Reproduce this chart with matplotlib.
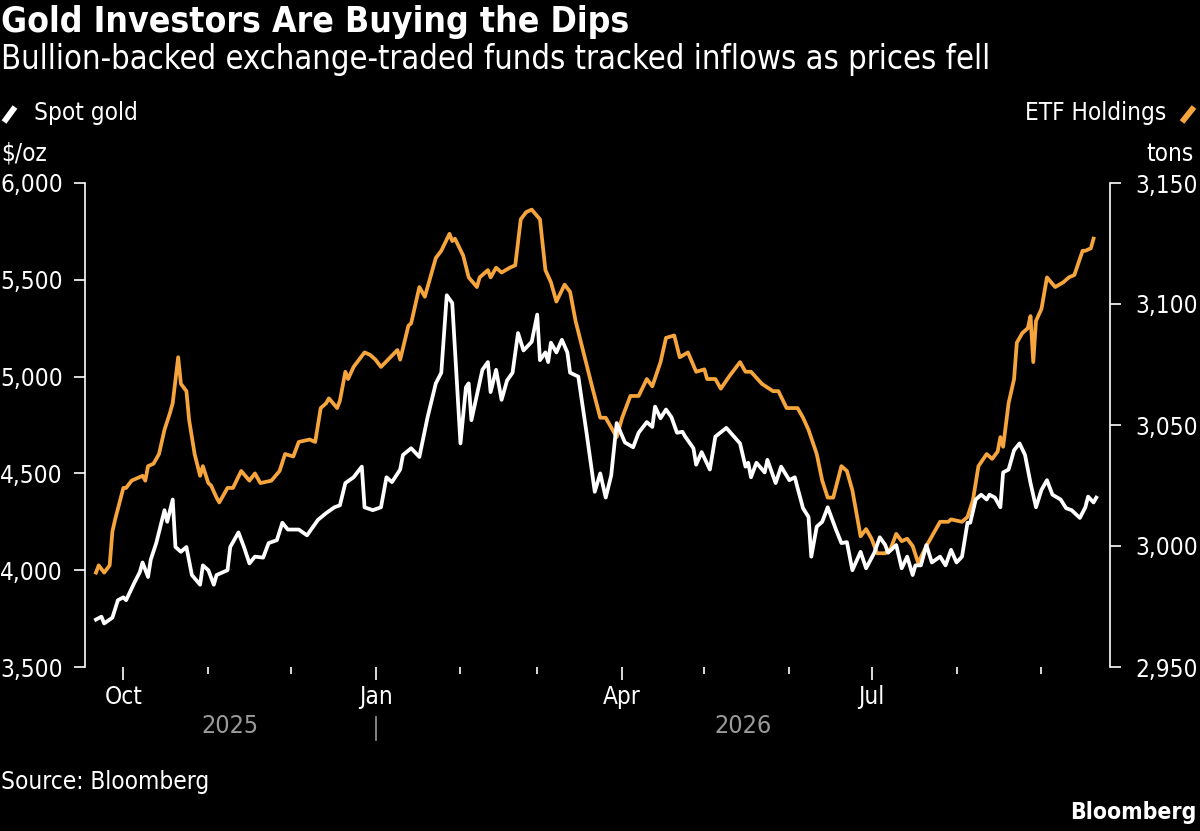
import datetime as dt
import matplotlib
matplotlib.use("Agg")
from matplotlib import pyplot as plt
import matplotlib.dates as mdates
from matplotlib.lines import Line2D
from matplotlib.ticker import FuncFormatter, FixedLocator

# ===================== data =====================
gold_dates = [
    "2025-09-21", "2025-09-23", "2025-09-24", "2025-09-27", "2025-09-29", "2025-10-01", "2025-10-02",
    "2025-10-05", "2025-10-07", "2025-10-08", "2025-10-10", "2025-10-11", "2025-10-13", "2025-10-16",
    "2025-10-17", "2025-10-19", "2025-10-20", "2025-10-22", "2025-10-24", "2025-10-26", "2025-10-29",
    "2025-10-30", "2025-11-01", "2025-11-03", "2025-11-04", "2025-11-08", "2025-11-09", "2025-11-12",
    "2025-11-14", "2025-11-16", "2025-11-18", "2025-11-21", "2025-11-23", "2025-11-26", "2025-11-28",
    "2025-11-30", "2025-12-04", "2025-12-07", "2025-12-11", "2025-12-14", "2025-12-17", "2025-12-19",
    "2025-12-21", "2025-12-24", "2025-12-27", "2025-12-28", "2025-12-31", "2026-01-03", "2026-01-05",
    "2026-01-07", "2026-01-10", "2026-01-11", "2026-01-14", "2026-01-17", "2026-01-20", "2026-01-23",
    "2026-01-25", "2026-01-27", "2026-01-29", "2026-02-01", "2026-02-03", "2026-02-04", "2026-02-05",
    "2026-02-09", "2026-02-11", "2026-02-12", "2026-02-14", "2026-02-16", "2026-02-18", "2026-02-20",
    "2026-02-22", "2026-02-24", "2026-02-27", "2026-03-01", "2026-03-02", "2026-03-04", "2026-03-05",
    "2026-03-06", "2026-03-08", "2026-03-10", "2026-03-12", "2026-03-13", "2026-03-16", "2026-03-19",
    "2026-03-22", "2026-03-24", "2026-03-26", "2026-03-28", "2026-03-30", "2026-04-02", "2026-04-05",
    "2026-04-07", "2026-04-10", "2026-04-12", "2026-04-13", "2026-04-15", "2026-04-17", "2026-04-19",
    "2026-04-21", "2026-04-23", "2026-04-24", "2026-04-27", "2026-04-28", "2026-04-30", "2026-05-03",
    "2026-05-05", "2026-05-09", "2026-05-14", "2026-05-16", "2026-05-17", "2026-05-18", "2026-05-20",
    "2026-05-23", "2026-05-24", "2026-05-27", "2026-05-29", "2026-06-01", "2026-06-03", "2026-06-04",
    "2026-06-06", "2026-06-08", "2026-06-09", "2026-06-11", "2026-06-13", "2026-06-15", "2026-06-18",
    "2026-06-20", "2026-06-22", "2026-06-24", "2026-06-27", "2026-06-29", "2026-07-02", "2026-07-04",
    "2026-07-06", "2026-07-07", "2026-07-10", "2026-07-12", "2026-07-14", "2026-07-16", "2026-07-17",
    "2026-07-19", "2026-07-21", "2026-07-23", "2026-07-26", "2026-07-28", "2026-07-30", "2026-08-01",
    "2026-08-03", "2026-08-05", "2026-08-06", "2026-08-08", "2026-08-10", "2026-08-12", "2026-08-13",
    "2026-08-15", "2026-08-17", "2026-08-18", "2026-08-20", "2026-08-22", "2026-08-24", "2026-08-26",
    "2026-08-28", "2026-08-30", "2026-09-01", "2026-09-03", "2026-09-05", "2026-09-08", "2026-09-10",
    "2026-09-12", "2026-09-15", "2026-09-17", "2026-09-18", "2026-09-20", "2026-09-21",
]
gold_price = [
    3745, 3760, 3725, 3755, 3845, 3860, 3845,
    3935, 3990, 4040, 3965, 4055, 4140, 4310,
    4250, 4365, 4120, 4095, 4120, 3975, 3925,
    4025, 4000, 3925, 3975, 4000, 4120, 4195,
    4120, 4035, 4070, 4065, 4140, 4155, 4245,
    4210, 4210, 4180, 4260, 4295, 4325, 4335,
    4450, 4480, 4535, 4325, 4310, 4325, 4480,
    4455, 4520, 4595, 4630, 4585, 4790, 4965,
    5020, 5420, 5380, 4655, 4945, 4965, 4775,
    5035, 5075, 4920, 5035, 4880, 4980, 5020,
    5225, 5135, 5180, 5320, 5085, 5125, 5075,
    5175, 5125, 5190, 5125, 5020, 5000, 4710,
    4405, 4500, 4375, 4490, 4760, 4660, 4635,
    4710, 4765, 4740, 4845, 4785, 4830, 4790,
    4710, 4715, 4690, 4630, 4545, 4610, 4520,
    4690, 4735, 4655, 4535, 4555, 4480, 4555,
    4505, 4570, 4450, 4535, 4465, 4480, 4425,
    4320, 4275, 4070, 4225, 4250, 4325, 4210,
    4140, 4145, 4000, 4095, 4010, 4090, 4170,
    4130, 4090, 4130, 4010, 4070, 3975, 4025,
    4025, 4130, 4040, 4070, 4025, 4105, 4040,
    4070, 4245, 4245, 4365, 4390, 4365, 4390,
    4375, 4325, 4505, 4520, 4620, 4655, 4595,
    4450, 4325, 4415, 4465, 4390, 4365, 4320,
    4310, 4270, 4325, 4380, 4350, 4375,
]

etf_dates = [
    "2025-09-21", "2025-09-22", "2025-09-24", "2025-09-26", "2025-09-27", "2025-09-28", "2025-10-01",
    "2025-10-02", "2025-10-04", "2025-10-08", "2025-10-09", "2025-10-10", "2025-10-12", "2025-10-14",
    "2025-10-16", "2025-10-18", "2025-10-19", "2025-10-21", "2025-10-22", "2025-10-24", "2025-10-25",
    "2025-10-27", "2025-10-29", "2025-10-30", "2025-11-01", "2025-11-02", "2025-11-04", "2025-11-05",
    "2025-11-08", "2025-11-10", "2025-11-13", "2025-11-16", "2025-11-18", "2025-11-20", "2025-11-24",
    "2025-11-27", "2025-11-29", "2025-12-02", "2025-12-04", "2025-12-08", "2025-12-10", "2025-12-12",
    "2025-12-14", "2025-12-15", "2025-12-18", "2025-12-19", "2025-12-21", "2025-12-22", "2025-12-24",
    "2025-12-28", "2025-12-30", "2026-01-01", "2026-01-03", "2026-01-09", "2026-01-10", "2026-01-13",
    "2026-01-14", "2026-01-17", "2026-01-19", "2026-01-23", "2026-01-25", "2026-01-28", "2026-01-29",
    "2026-01-30", "2026-02-02", "2026-02-04", "2026-02-07", "2026-02-08", "2026-02-11", "2026-02-12",
    "2026-02-14", "2026-02-16", "2026-02-19", "2026-02-21", "2026-02-23", "2026-02-25", "2026-02-27",
    "2026-03-02", "2026-03-04", "2026-03-06", "2026-03-08", "2026-03-11", "2026-03-13", "2026-03-15",
    "2026-03-17", "2026-03-21", "2026-03-24", "2026-03-26", "2026-03-30", "2026-04-01", "2026-04-04",
    "2026-04-07", "2026-04-10", "2026-04-12", "2026-04-15", "2026-04-17", "2026-04-20", "2026-04-22",
    "2026-04-25", "2026-04-28", "2026-05-01", "2026-05-02", "2026-05-05", "2026-05-07", "2026-05-10",
    "2026-05-14", "2026-05-16", "2026-05-18", "2026-05-22", "2026-05-26", "2026-05-28", "2026-05-31",
    "2026-06-04", "2026-06-06", "2026-06-08", "2026-06-11", "2026-06-13", "2026-06-15", "2026-06-17",
    "2026-06-20", "2026-06-22", "2026-06-24", "2026-06-27", "2026-06-29", "2026-07-01", "2026-07-03",
    "2026-07-06", "2026-07-08", "2026-07-10", "2026-07-12", "2026-07-14", "2026-07-16", "2026-07-18",
    "2026-07-21", "2026-07-23", "2026-07-26", "2026-07-29", "2026-07-30", "2026-08-03", "2026-08-05",
    "2026-08-07", "2026-08-09", "2026-08-12", "2026-08-14", "2026-08-16", "2026-08-17", "2026-08-18",
    "2026-08-20", "2026-08-22", "2026-08-23", "2026-08-25", "2026-08-27", "2026-08-28", "2026-08-29",
    "2026-08-30", "2026-09-01", "2026-09-03", "2026-09-06", "2026-09-09", "2026-09-11", "2026-09-13",
    "2026-09-16", "2026-09-17", "2026-09-19", "2026-09-20",
]
etf_tons = [
    2989, 2992, 2989, 2992, 3006, 3011, 3024,
    3024, 3027, 3029, 3027, 3033, 3034, 3038,
    3048, 3055, 3059, 3078, 3067, 3064, 3052,
    3038, 3029, 3033, 3026, 3025, 3020, 3018,
    3024, 3024, 3031, 3027, 3030, 3026, 3027,
    3031, 3038, 3037, 3043, 3044, 3043, 3057,
    3059, 3061, 3057, 3060, 3072, 3069, 3074,
    3080, 3079, 3077, 3074, 3081, 3077, 3091,
    3092, 3107, 3103, 3119, 3122, 3129, 3126,
    3127, 3120, 3111, 3107, 3111, 3114, 3111,
    3115, 3113, 3115, 3116, 3135, 3138, 3139,
    3135, 3114, 3109, 3101, 3108, 3105, 3093,
    3084, 3066, 3053, 3053, 3045, 3053, 3062,
    3062, 3069, 3066, 3076, 3086, 3087, 3078,
    3080, 3072, 3073, 3069, 3069, 3065, 3070,
    3076, 3072, 3072, 3067, 3064, 3064, 3057,
    3057, 3053, 3048, 3038, 3027, 3020, 3020,
    3033, 3031, 3023, 3004, 3007, 3003, 2997,
    2997, 2999, 3005, 3002, 3003, 3000, 2993,
    3000, 3004, 3010, 3010, 3011, 3010, 3012,
    3019, 3033, 3038, 3036, 3039, 3045, 3041,
    3059, 3069, 3084, 3088, 3090, 3095, 3076,
    3093, 3098, 3111, 3107, 3109, 3111, 3112,
    3122, 3122, 3123, 3127,
]

gold_ticks = [3500, 4000, 4500, 5000, 5500, 6000]
etf_ticks = [2950, 3000, 3050, 3100, 3150]

title = "Gold Investors Are Buying the Dips"
subtitle = "Bullion-backed exchange-traded funds tracked inflows as prices fell"
source = "Source: Bloomberg"

# ===================== style =====================
W, H = 1200, 831
BG = "black"
FG = "white"
ORANGE = "#F6A53C"
GREY = "#9a9a9a"
plt.rcParams["font.family"] = ["DejaVu Sans"]
plt.rcParams["font.stretch"] = "condensed"
FS = 17.5


def fx(x):
    return x / W


def fy(y):
    return 1 - y / H


gd = [dt.datetime.strptime(d, "%Y-%m-%d") for d in gold_dates]
ed = [dt.datetime.strptime(d, "%Y-%m-%d") for d in etf_dates]

fig = plt.figure(figsize=(W / 100, H / 100), dpi=100, facecolor=BG)
ax = fig.add_axes([fx(85), fy(667), fx(1110 - 85), (667 - 183) / H])
ax2 = ax.twinx()

ax2.plot(ed, etf_tons, color=ORANGE, lw=2.7, solid_joinstyle="round", zorder=2)
ax.plot(gd, gold_price, color=FG, lw=2.7, solid_joinstyle="round", zorder=3)
ax.set_zorder(ax2.get_zorder() + 1)
ax.patch.set_visible(False)
ax2.set_facecolor(BG)

x0, x1 = dt.datetime(2025, 9, 17), dt.datetime(2026, 9, 26)
ax.set_xlim(x0, x1)
ax.set_ylim(3500, 6000)
ax2.set_ylim(2950, 3150)

for a in (ax, ax2):
    for s in ("top", "bottom", "left", "right"):
        a.spines[s].set_visible(False)
ax.spines["left"].set_visible(True)
ax.spines["left"].set_color(FG)
ax.spines["left"].set_linewidth(1.2)
ax2.spines["right"].set_visible(True)
ax2.spines["right"].set_color(FG)
ax2.spines["right"].set_linewidth(1.2)

fmt = FuncFormatter(lambda v, p: f"{v:,.0f}")
ax.yaxis.set_major_locator(FixedLocator(gold_ticks))
ax.yaxis.set_major_formatter(fmt)
ax2.yaxis.set_major_locator(FixedLocator(etf_ticks))
ax2.yaxis.set_major_formatter(fmt)
ax.tick_params(axis="y", colors=FG, labelcolor=FG, labelsize=FS, length=8, width=1.2, pad=8)
ax2.tick_params(axis="y", colors=FG, labelcolor=FG, labelsize=FS, length=8, width=1.2, pad=10)

ax.xaxis.set_major_locator(mdates.MonthLocator(bymonth=[1, 4, 7, 10]))
ax.xaxis.set_minor_locator(mdates.MonthLocator())
ax.xaxis.set_major_formatter(mdates.DateFormatter("%b"))
ax.tick_params(axis="x", which="major", colors=FG, labelcolor=FG, labelsize=FS, length=9, width=1.2, pad=4)
ax.tick_params(axis="x", which="minor", colors=FG, length=5, width=1.2)

# year labels under the months
trans = ax.get_xaxis_transform()
jan = dt.datetime(2026, 1, 1)
ax.text(x0 + (jan - x0) / 2, -0.122, "2025", transform=trans, color=GREY,
        fontsize=18, ha="center", va="center", clip_on=False)
ax.text(jan + (x1 - jan) / 2, -0.122, "2026", transform=trans, color=GREY,
        fontsize=18, ha="center", va="center", clip_on=False)
ax.plot([jan, jan], [-0.104, -0.151], transform=trans, color=GREY, lw=1.2, clip_on=False)

# ===================== text =====================
fig.text(fx(1), fy(22), title, color=FG, fontsize=25.5, fontweight="bold", va="center", ha="left")
fig.text(fx(1), fy(60), subtitle, color=FG, fontsize=23.5, va="center", ha="left")

fig.add_artist(Line2D([fx(4), fx(15)], [fy(122), fy(107)], color=FG, lw=4.2, solid_capstyle="butt"))
fig.text(fx(34), fy(113), "Spot gold", color=FG, fontsize=FS, va="center", ha="left")
fig.add_artist(Line2D([fx(1182), fx(1194)], [fy(122), fy(107)], color=ORANGE, lw=4.2, solid_capstyle="butt"))
fig.text(fx(1166), fy(113), "ETF Holdings", color=FG, fontsize=FS, va="center", ha="right")

fig.text(fx(1), fy(154), "$/oz", color=FG, fontsize=FS, va="center", ha="left")
fig.text(fx(1194), fy(154), "tons", color=FG, fontsize=FS, va="center", ha="right")

fig.text(fx(1), fy(782), source, color=FG, fontsize=FS, va="center", ha="left")
fig.text(fx(1196), fy(812), "Bloomberg", color=FG, fontsize=16.5, fontweight="bold", va="center", ha="right")

fig.savefig("out.png", dpi=100, facecolor=BG)
